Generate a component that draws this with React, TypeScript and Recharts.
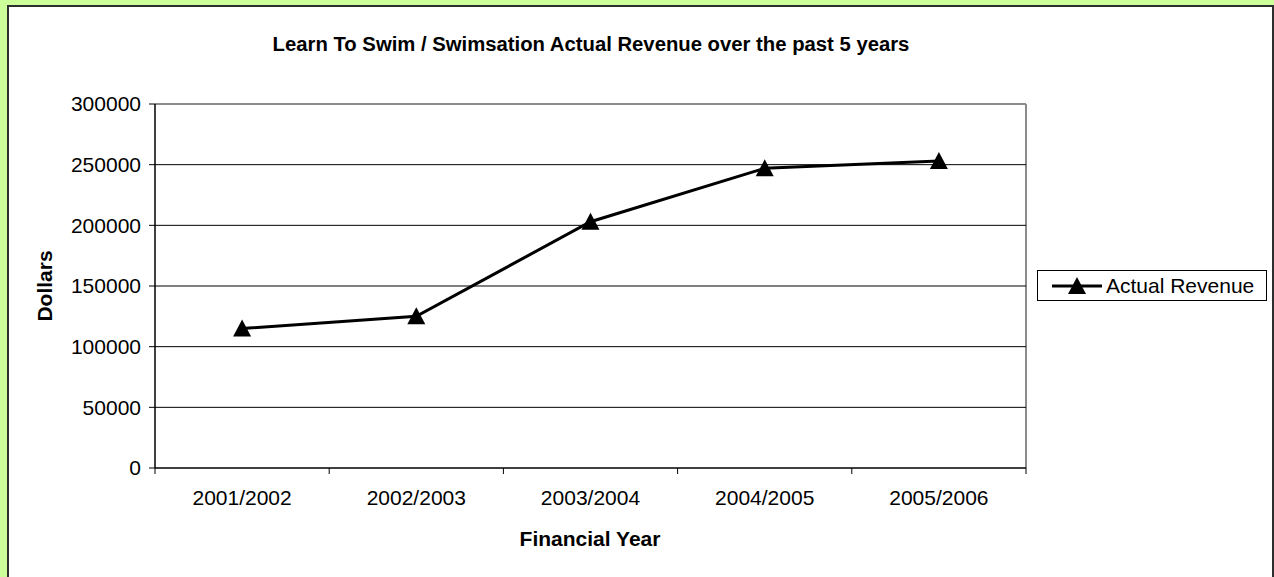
import { LineChart, Line, XAxis, YAxis, CartesianGrid, Legend } from 'recharts';

const years = ['2001/2002', '2002/2003', '2003/2004', '2004/2005', '2005/2006'];
const revenue = [115000, 125000, 203000, 247000, 253000];
const dollarTicks = [0, 50000, 100000, 150000, 200000, 250000, 300000];
const gridValues = [50000, 100000, 150000, 200000, 250000];

const data = years.map((year, i) => ({ year, revenue: revenue[i] }));

const W = 1274;
const H = 577;
const PLOT = { left: 155, top: 104, right: 1026, bottom: 468 };
const HALF_BAND = (PLOT.right - PLOT.left) / years.length / 2;
const FONT = '"Liberation Sans", Arial, sans-serif';

function Triangle({ cx, cy }: any) {
  if (cx == null || cy == null) return null;
  return <path d={`M${cx},${cy - 9} L${cx + 9},${cy + 8} L${cx - 9},${cy + 8} Z`} fill="#000" />;
}

// category label in the middle, tick marks on the band edges
function YearTick({ x, y, payload, index }: any) {
  return (
    <g>
      <line x1={x - HALF_BAND} y1={y} x2={x - HALF_BAND} y2={y + 6} stroke="#000" />
      {index === years.length - 1 && (
        <line x1={x + HALF_BAND} y1={y} x2={x + HALF_BAND} y2={y + 6} stroke="#000" />
      )}
      <text x={x} y={y + 37} textAnchor="middle" fontSize={21} fontFamily={FONT} fill="#000">
        {payload.value}
      </text>
    </g>
  );
}

function RevenueLegend({ payload }: any) {
  const item = payload && payload[0];
  return (
    <div
      style={{
        width: 230,
        height: 31,
        boxSizing: 'border-box',
        border: '1px solid #000',
        background: '#fff',
        display: 'flex',
        alignItems: 'center',
        fontFamily: FONT,
        fontSize: 21,
        color: '#000',
      }}
    >
      <svg width={68} height={29} style={{ flex: 'none' }}>
        <line x1={14} y1={15} x2={64} y2={15} stroke="#000" strokeWidth={3} />
        <Triangle cx={39} cy={15} />
      </svg>
      <span style={{ whiteSpace: 'nowrap' }}>{item ? item.value : 'Actual Revenue'}</span>
    </div>
  );
}

export default function App() {
  return (
    <div
      style={{
        position: 'fixed',
        left: 0,
        top: 0,
        width: W,
        height: H,
        overflow: 'hidden',
        backgroundColor: '#CCFF99',
        fontFamily: FONT,
      }}
    >
      <div
        style={{
          position: 'absolute',
          left: 7,
          top: 5,
          width: W - 7,
          height: H + 20,
          boxSizing: 'border-box',
          borderTop: '2px solid #2e2e2e',
          borderLeft: '2px solid #2e2e2e',
          borderRight: '2px solid #2e2e2e',
          backgroundColor: '#fff',
        }}
      />
      <div
        style={{
          position: 'absolute',
          left: 0,
          width: 1182,
          top: 33,
          textAlign: 'center',
          fontWeight: 'bold',
          fontSize: 20.3,
          color: '#000',
        }}
      >
        Learn To Swim / Swimsation Actual Revenue over the past 5 years
      </div>
      <div
        style={{
          position: 'absolute',
          left: 45,
          top: 286,
          transform: 'translate(-50%, -50%) rotate(-90deg)',
          fontWeight: 'bold',
          fontSize: 21,
          color: '#000',
          whiteSpace: 'nowrap',
        }}
      >
        Dollars
      </div>
      <div
        style={{
          position: 'absolute',
          left: 0,
          width: 1180,
          top: 527,
          textAlign: 'center',
          fontWeight: 'bold',
          fontSize: 21,
          color: '#000',
        }}
      >
        Financial Year
      </div>
      <div style={{ position: 'absolute', left: 0, top: 0 }}>
        <LineChart
          width={W}
          height={H}
          data={data}
          margin={{ top: PLOT.top, right: W - PLOT.right, left: 0, bottom: 0 }}
        >
          {/* grey frame on the top and right of the plot area */}
          <CartesianGrid
            stroke="#8c8c8c"
            strokeWidth={2}
            horizontalCoordinatesGenerator={({ offset }: any) => [offset.top]}
            verticalCoordinatesGenerator={({ offset }: any) => [offset.left + offset.width]}
          />
          <CartesianGrid vertical={false} horizontalValues={gridValues} stroke="#000" strokeWidth={1} />
          <XAxis
            dataKey="year"
            height={H - PLOT.bottom}
            padding={{ left: HALF_BAND, right: HALF_BAND }}
            tickLine={false}
            tickSize={0}
            tickMargin={0}
            interval={0}
            axisLine={{ stroke: '#000', strokeWidth: 1.5 }}
            tick={<YearTick />}
          />
          <YAxis
            width={PLOT.left}
            domain={[0, 300000]}
            ticks={dollarTicks}
            interval={0}
            tickSize={6}
            tickMargin={8}
            axisLine={{ stroke: '#000', strokeWidth: 1.5 }}
            tickLine={{ stroke: '#000' }}
            tick={{ fontSize: 21, fill: '#000', fontFamily: FONT }}
          />
          <Legend
            layout="vertical"
            align="center"
            verticalAlign="middle"
            wrapperStyle={{ left: 1037, top: 270, width: 230 }}
            content={<RevenueLegend />}
          />
          <Line
            type="linear"
            dataKey="revenue"
            name="Actual Revenue"
            stroke="#000"
            strokeWidth={3}
            dot={<Triangle />}
            activeDot={false}
            isAnimationActive={false}
          />
        </LineChart>
      </div>
    </div>
  );
}
